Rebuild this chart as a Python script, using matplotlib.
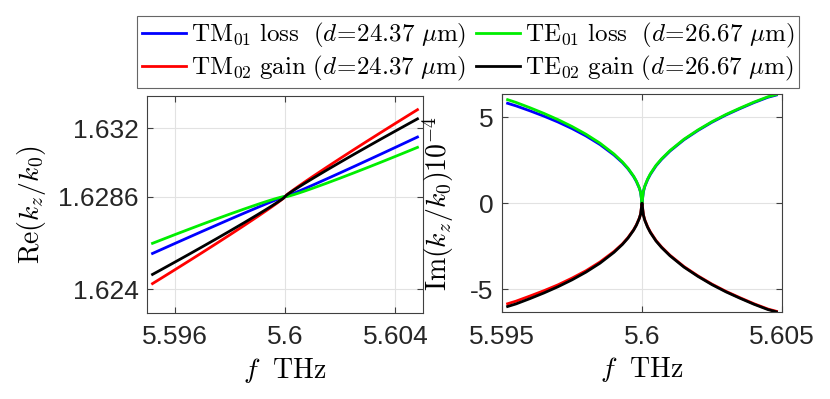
import matplotlib
matplotlib.use("Agg")
import matplotlib.pyplot as plt
from matplotlib.lines import Line2D

plt.rcParams['mathtext.fontset'] = 'cm'
plt.rcParams['font.family'] = ['Liberation Sans', 'DejaVu Sans']

# frequency samples (THz)
f = [5.5952, 5.5955, 5.596, 5.5965, 5.597, 5.5975, 5.598, 5.5985, 5.599, 5.5993,
     5.5995, 5.5997, 5.5998, 5.5999, 5.59995, 5.6, 5.60005, 5.6001, 5.6002, 5.6003,
     5.6005, 5.6007, 5.601, 5.6015, 5.602, 5.6025, 5.603, 5.6035, 5.604, 5.6045, 5.6048]

# Re(kz/k0)
re_tm01 = [1.625778, 1.625962, 1.626268, 1.626572, 1.626875, 1.627175, 1.627474, 1.627769,
           1.628060, 1.628231, 1.628344, 1.628455, 1.628508, 1.628560, 1.628584, 1.6286,
           1.628618, 1.628643, 1.628697, 1.628754, 1.628871, 1.628989, 1.629169, 1.629475,
           1.629784, 1.630097, 1.630412, 1.630729, 1.631048, 1.631369, 1.631562]
re_tm02 = [1.624280, 1.624534, 1.624960, 1.625389, 1.625822, 1.626259, 1.626701, 1.627149,
           1.627605, 1.627884, 1.628074, 1.628268, 1.628369, 1.628473, 1.628528, 1.6286,
           1.628672, 1.628727, 1.628831, 1.628932, 1.629126, 1.629316, 1.629595, 1.630051,
           1.630499, 1.630941, 1.631378, 1.631811, 1.632240, 1.632666, 1.632920]
re_te01 = [1.626282, 1.626442, 1.626708, 1.626970, 1.627229, 1.627483, 1.627733, 1.627976,
           1.628212, 1.628348, 1.628434, 1.628517, 1.628554, 1.628589, 1.628598, 1.6286,
           1.6286, 1.628614, 1.628651, 1.628691, 1.628779, 1.628871, 1.629015, 1.629264,
           1.629521, 1.629784, 1.630052, 1.630324, 1.630600, 1.630879, 1.631048]
re_te02 = [1.624736, 1.624961, 1.625340, 1.625721, 1.626107, 1.626496, 1.626891, 1.627291,
           1.627700, 1.627950, 1.628121, 1.628296, 1.628388, 1.628482, 1.628533, 1.6286,
           1.628667, 1.628718, 1.628812, 1.628904, 1.629079, 1.629250, 1.629500, 1.629909,
           1.630309, 1.630704, 1.631093, 1.631479, 1.631860, 1.632239, 1.632464]

# Im(kz/k0) x 1e4
im_tm01 = [5.81, 5.66, 5.37, 5.06, 4.72, 4.34, 3.91, 3.41, 2.80, 2.36, 2.00, 1.55, 1.26, 0.89, 0.63, 0.0,
           0.67, 0.97, 1.37, 1.68, 2.17, 2.55, 3.03, 3.69, 4.23, 4.71, 5.13, 5.50, 5.85, 6.16, 6.29]
im_tm02 = [-5.85, -5.70, -5.40, -5.09, -4.75, -4.36, -3.93, -3.42, -2.81, -2.37, -2.00, -1.55, -1.26, -0.89, -0.63, 0.0,
           -0.67, -0.97, -1.37, -1.68, -2.17, -2.55, -3.03, -3.69, -4.23, -4.71, -5.13, -5.50, -5.85, -6.16, -6.29]
im_te01 = [6.02, 5.86, 5.55, 5.22, 4.86, 4.46, 4.01, 3.49, 2.86, 2.40, 2.03, 1.57, 1.28, 0.90, 0.64, 0.0,
           0.70, 1.00, 1.40, 1.71, 2.20, 2.58, 3.06, 3.72, 4.26, 4.74, 5.16, 5.53, 5.88, 6.19, 6.32]
im_te02 = [-6.01, -5.86, -5.55, -5.22, -4.86, -4.46, -4.01, -3.49, -2.86, -2.40, -2.03, -1.57, -1.28, -0.90, -0.64, 0.0,
           -0.70, -1.00, -1.40, -1.71, -2.20, -2.58, -3.06, -3.72, -4.26, -4.74, -5.16, -5.53, -5.88, -6.19, -6.32]

labels = [r'$\mathrm{TM}_{01}\ \mathrm{loss}\ \ (d\!=\!24.37\ \mu\mathrm{m})$',
          r'$\mathrm{TM}_{02}\ \mathrm{gain}\ (d\!=\!24.37\ \mu\mathrm{m})$',
          r'$\mathrm{TE}_{01}\ \mathrm{loss}\ \ (d\!=\!26.67\ \mu\mathrm{m})$',
          r'$\mathrm{TE}_{02}\ \mathrm{gain}\ (d\!=\!26.67\ \mu\mathrm{m})$']
colors = ['#0000ff', '#ff0000', '#00ee00', '#000000']

left_xticks = [5.596, 5.6, 5.604]
left_xticklabels = ['5.596', '5.6', '5.604']
left_yticks = [1.624, 1.6286, 1.632]
left_yticklabels = ['1.624', '1.6286', '1.632']
right_xticks = [5.595, 5.6, 5.605]
right_xticklabels = ['5.595', '5.6', '5.605']
right_yticks = [-5, 0, 5]
right_yticklabels = ['-5', '0', '5']

fig = plt.figure(figsize=(8.3, 3.99), dpi=100)
ax1 = fig.add_axes([147/830, 1-313/399, 276/830, 217/399])
ax2 = fig.add_axes([502/830, 1-312/399, 280/830, 218/399])

lw = 2.0
for ys, c in zip([re_tm01, re_tm02, re_te01, re_te02], colors):
    ax1.plot(f, ys, color=c, lw=lw, solid_joinstyle='round')
for ys, c in zip([im_tm01, im_tm02, im_te01, im_te02], colors):
    ax2.plot(f, ys, color=c, lw=lw, solid_joinstyle='round')

ax1.set_xlim(5.595, 5.605)
ax1.set_ylim(1.62282, 1.6336)
ax1.set_xticks(left_xticks, left_xticklabels)
ax1.set_yticks(left_yticks, left_yticklabels)
ax2.set_xlim(5.595, 5.605)
ax2.set_ylim(-6.33, 6.35)
ax2.set_xticks(right_xticks, right_xticklabels)
ax2.set_yticks(right_yticks, right_yticklabels)

for ax in (ax1, ax2):
    ax.grid(True, color='#e2e2e2', lw=0.8)
    ax.set_axisbelow(True)
    for s in ax.spines.values():
        s.set_color('#404040')
        s.set_linewidth(0.8)
    ax.tick_params(direction='in', length=4, width=0.8, color='#404040',
                   labelsize=19, labelcolor='#262626', top=True, right=True)
    ax.tick_params(axis='x', pad=9)
    ax.tick_params(axis='y', pad=6)
    ax.set_xlabel(r'$f\ \ \mathrm{THz}$', fontsize=20, labelpad=5)

ax1.set_ylabel(r'$\mathrm{Re}(k_z/k_0)$', fontsize=20, labelpad=7)
ax2.set_ylabel(r'$\mathrm{Im}(k_z/k_0)10^{-4}$', fontsize=20, labelpad=10)

handles = [Line2D([], [], color=c, lw=lw) for c in colors]
leg = fig.legend(handles, labels, ncol=2, loc='upper left',
                 bbox_to_anchor=(137/830, 1-16/399), borderaxespad=0,
                 fontsize=18, frameon=True, fancybox=False, edgecolor='#404040',
                 handlelength=1.75, handletextpad=0.2, columnspacing=0.4,
                 labelspacing=0.15, borderpad=0.2)
leg.get_frame().set_linewidth(0.8)

fig.savefig('out.png', dpi=100)
